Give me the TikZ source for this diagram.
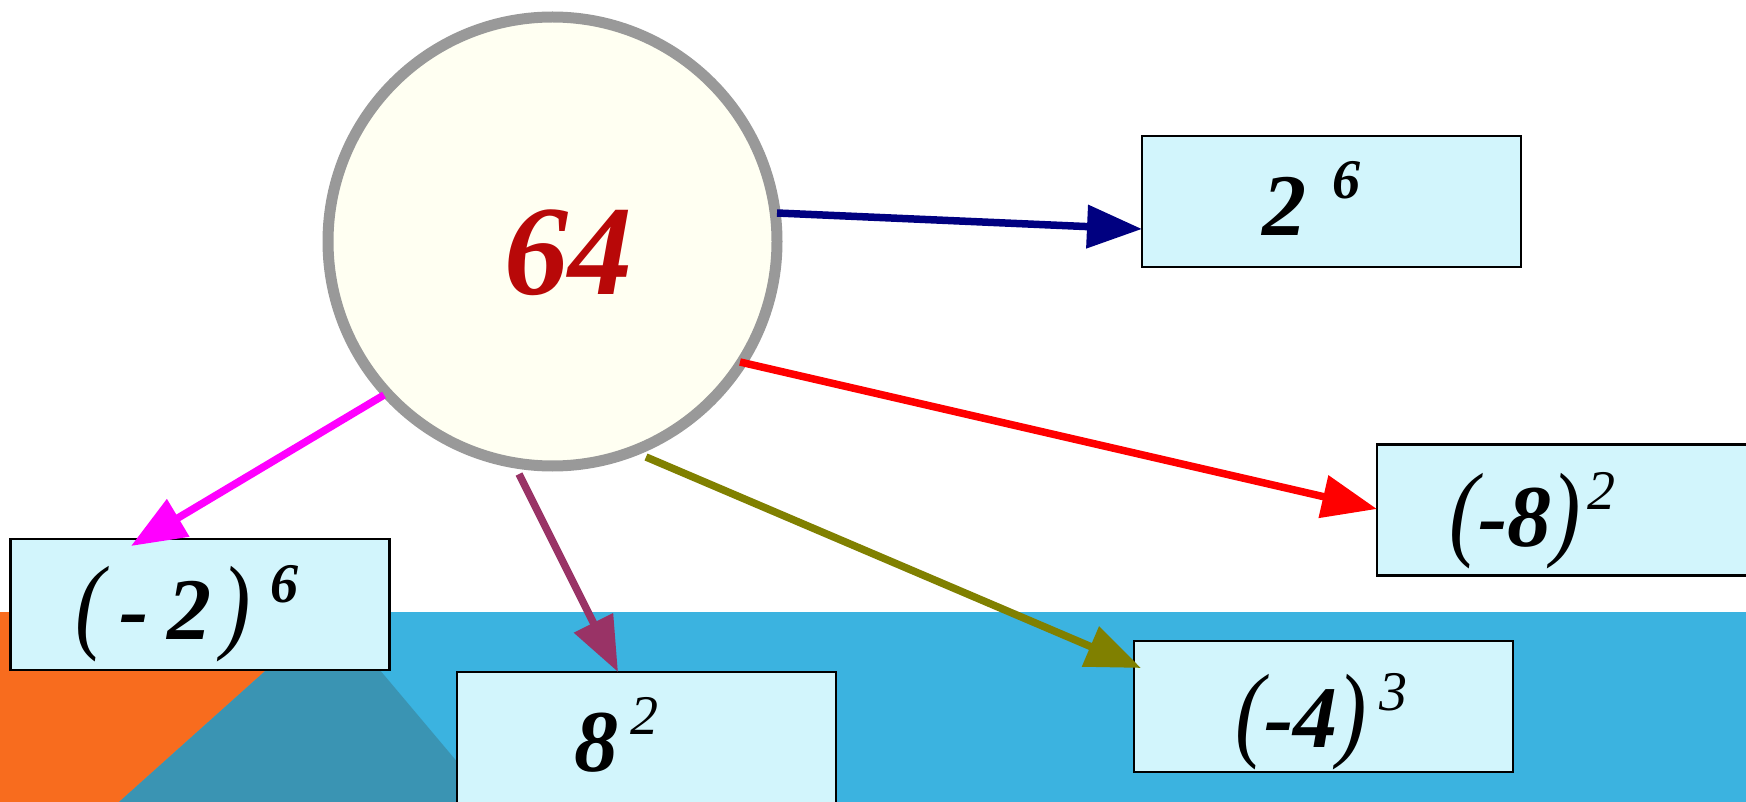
\documentclass[tikz,border=0pt]{standalone}
\usepackage{fontspec}
\setmainfont{Liberation Serif}
\usetikzlibrary{arrows.meta}
\definecolor{bandblue}{RGB}{59,179,224}
\definecolor{bgorange}{RGB}{248,108,30}
\definecolor{bgteal}{RGB}{58,148,179}
\definecolor{boxfill}{RGB}{210,245,252}
\definecolor{circfill}{RGB}{255,255,242}
\definecolor{circline}{RGB}{153,153,153}
\definecolor{numred}{RGB}{184,8,8}
\definecolor{anavy}{RGB}{0,0,128}
\definecolor{ared}{RGB}{255,0,0}
\definecolor{amag}{RGB}{255,0,255}
\definecolor{apurple}{RGB}{153,51,102}
\definecolor{aolive}{RGB}{128,128,0}
\newcommand\pp[1]{{\mdseries\scalebox{1}[1.2]{#1}}}
\newcommand\supb[1]{\raisebox{37pt}{\fontsize{56}{56}\selectfont\bfseries #1}}
\newcommand\supm[1]{\raisebox{37pt}{\fontsize{56}{56}\selectfont\mdseries #1}}
\begin{document}
\begin{tikzpicture}[x=1pt,y=-1pt,
  powbox/.style={draw=black, line width=2.5pt, fill=boxfill, rectangle,
    minimum width=379pt, minimum height=131pt, inner sep=0pt},
  powtext/.style={anchor=base west, inner sep=0pt,
    font=\fontsize{88}{88}\selectfont\bfseries\itshape},
  conn/.style={line width=7.5pt, -{Triangle[length=55pt,width=42pt]}}]
\useasboundingbox (0,0) rectangle (1746,802);
% background
\fill[white] (0,0) rectangle (1746,802);
\fill[bandblue] (0,612) rectangle (1746,802);
\fill[bgorange] (0,612) -- (331,612) -- (119,802) -- (0,802) -- cycle;
\fill[bgteal] (331,612) -- (119,802) -- (491,802) -- cycle;
% central circle
\node[circle, draw=circline, line width=11pt, fill=circfill,
  minimum size=449pt, inner sep=0pt] (c) at (552.5,241.5) {};
\node[anchor=base west, inner sep=0pt, text=numred,
  font=\fontsize{128}{128}\selectfont\bfseries\itshape] (n64) at (504,295) {64};
% boxes
\node[powbox] (b1) at (1331.5,201.5) {};
\node[powbox] (b2) at (1566.5,510) {};
\node[powbox] (b3) at (200,604.5) {};
\node[powbox] (b4) at (646.5,737.5) {};
\node[powbox] (b5) at (1323.5,706.5) {};
% box texts
\node[powtext] (t1) at (1262,236) {2\hspace{26pt}\supb{6}};
\node[powtext] (t2) at (1449,546) {\pp{(}-8\pp{)}\hspace{6pt}\supm{2}};
\node[powtext] (t3) at (75,639) {\pp{(}\hspace{15pt}-\hspace{19pt}2\hspace{10pt}\pp{)}\hspace{19pt}\supb{6}};
\node[powtext] (t4) at (574,771) {8\hspace{12pt}\supm{2}};
\node[powtext] (t5) at (1235,747) {\pp{(}-4\pp{)}\hspace{12pt}\supm{3}};
% connector endpoints
\coordinate (s1) at (777,213);
\coordinate (s2) at (740,362);
\coordinate (s3) at (384,395);
\coordinate (s4) at (519,474);
\coordinate (s5) at (646,457);
\coordinate (e1) at (1142,229);
\coordinate (e2) at (1377,509);
\coordinate (e3) at (131,546);
\coordinate (e4) at (618,672);
\coordinate (e5) at (1141,668);
% connectors
\draw[conn, anavy] (s1) -- (e1);
\draw[conn, ared] (s2) -- (e2);
\draw[conn, amag] (s3) -- (e3);
\draw[conn, apurple] (s4) -- (e4);
\draw[conn, aolive] (s5) -- (e5);
\end{tikzpicture}
\end{document}
